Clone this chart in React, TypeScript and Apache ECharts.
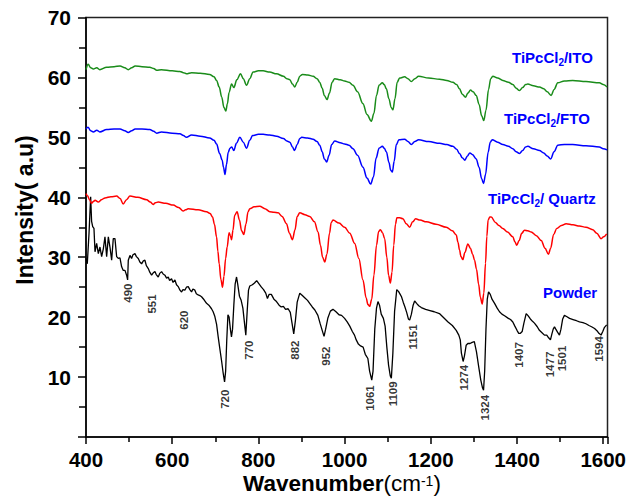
import React, { useEffect, useRef } from "react";
import * as echarts from "echarts";

type P = [number, number];

const powder: P[] = [
  [400,29.8],[403,28.9],[407,34],[410.8,40.1],[413,36],[415.5,35.1],[418.5,34.8],[420.9,30.9],[424.7,32.3],[428.6,30.6],[432.4,31.7],[436.3,30.1],[440.2,31.4],[444,33.4],[447.9,30.1],[451.8,33.4],[455.6,31.7],[459.5,29.5],[463.3,33.1],[467.2,33.1],[471.1,30.1],[474.9,29.8],[478.8,29.9],[482.7,28.4],[486.5,27.8],[490.4,27.8],[494.2,27],[496.6,26.2],[498.1,29.5],[502,30.3],[505.8,29.8],[509,30.4],[513.6,30.6],[517,30.1],[521.3,29.8],[525,29.2],[529,28.9],[533,29.4],[536.7,29.5],[540,28.6],[544.5,28.1],[548,27.5],[552.2,27],[556,27.4],[559.9,27.6],[563,27.1],[567.6,26.7],[571,27.3],[575.4,27.6],[579,27.2],[583.1,27],[587,26.5],[590.8,26.7],[594,26.1],[598.5,26.4],[602,25.8],[606.3,26.2],[610,25.4],[614,25.1],[618,24.5],[621.7,24.2],[625,24.6],[629.4,24.5],[633,25],[637.2,25.1],[641,24.6],[644.9,24.2],[648,24.7],[652.6,24.5],[656,23.9],[660.3,23.7],[664,23.6],[668.1,23.4],[674,22.9],[679.7,22.3],[685,22],[691.2,21.4],[695,20.9],[699,20.1],[703,18.8],[706.7,16.7],[710,15],[714.4,12.8],[718,10.8],[721.5,9.2],[724,11],[726.5,16],[729.3,20.4],[732,20],[735,18],[737.5,16.7],[740,18],[743,22],[746,25.5],[749.3,26.7],[752,25.5],[756,23.5],[760,22.8],[764,21.5],[767,19.5],[770.8,17],[774,21],[777,24.5],[780,25.2],[786,25.4],[791,25.7],[796,26.1],[801,25.6],[807,25],[812,24.6],[817,24],[821,23.1],[825,23.8],[830,23.8],[836,23],[842,22.6],[848,22],[853,21.7],[858,21.8],[863,21.3],[869,21.4],[874,20.8],[878,19],[882,17.2],[886,19.5],[890,22.5],[896,24],[902,23.6],[908,23.2],[914,22.8],[919,22.3],[925,21.7],[931,21.2],[938,20.3],[943,19],[948,17.8],[952.3,16.8],[956,18],[961,19.8],[967,21],[973,21.3],[980,20.9],[987,20.4],[993,20.3],[1000,19.8],[1006,19.2],[1012,18.5],[1018,17.6],[1023,17],[1027,16.2],[1032,15.5],[1037,15.2],[1043,15],[1048,13.8],[1054,13.1],[1058,11],[1063,9.5],[1066,11],[1070,18],[1074,21.5],[1077.4,22.6],[1081,22],[1085,20.5],[1090,19.8],[1094,18.5],[1098,15],[1102,12],[1106,10.2],[1108.5,9.8],[1112,14],[1116,21],[1121,24.6],[1125,24.3],[1129,23.8],[1132,23.4],[1136,22.5],[1140,21.7],[1144,20.8],[1148,19.7],[1151,19.5],[1155,20.5],[1159,22],[1162.5,22.7],[1167,22.3],[1172,21.9],[1178,21.6],[1188,21.3],[1198,21.1],[1208,20.9],[1220,20.6],[1230,19.9],[1240,19.2],[1250,18.6],[1259,17.8],[1265,17],[1268.4,16.2],[1271,14],[1275,12.6],[1278,13.5],[1282,15.3],[1286,15.6],[1291,15.6],[1296,15.8],[1301,15.9],[1306,14.2],[1311,11.8],[1316,9.5],[1320,8.2],[1322.4,7.8],[1325,11],[1328,18],[1331,23],[1334,24.2],[1338,23.8],[1342,23],[1348,22.3],[1354,21.5],[1359.4,20.9],[1365,20.5],[1372,20.2],[1380,19.8],[1385,19.6],[1390.3,19.2],[1395,18.5],[1400,17.8],[1404,17.3],[1408,17.3],[1412,17.6],[1416,19],[1421.3,20.6],[1426,20.2],[1431,19.7],[1436,19.3],[1440.5,19],[1447,18.4],[1452,17.8],[1458,17.4],[1463.7,17],[1469,17],[1473,16.6],[1477.6,16.2],[1481,17.2],[1484,18],[1487,18.4],[1490,18],[1494,17.5],[1498.5,17],[1502,18],[1506,19.7],[1510,20.3],[1515,20.1],[1522,19.8],[1530,19.6],[1538,19.4],[1545,19.2],[1553,19.1],[1560,18.9],[1567,18.6],[1573,18.4],[1580,18.1],[1586,17.7],[1590,17.3],[1595,17],[1599,17.6],[1603,18.3],[1608,18.7]
];

const quartz: P[] = [
  [400,40.6],[404,40.2],[408,39.6],[413,39],[417,39.3],[421,39.5],[428.5,39.2],[436,39.6],[444,39.9],[458,40.1],[471,40.2],[479,39.8],[486.4,38.9],[494,39.6],[502,40.2],[520,40],[540.7,39.6],[549,39.2],[556,38.8],[561,39.1],[567.6,39.2],[585,39],[602.3,38.7],[615,38.3],[625.5,37.7],[631,37.9],[637.1,38.1],[660,37.9],[679.7,37.6],[688,37.3],[693.6,36.7],[698,35.5],[702.9,33.4],[706,31],[709,28.9],[713,26.3],[716.8,25],[720,26.8],[724,29.8],[727.5,31.7],[732,34.1],[735,33.6],[737.7,32.9],[741,34.5],[745,37],[750.6,37.6],[756,36.2],[761,34.4],[766.2,33.8],[771,35.5],[776,37.6],[780.1,38.1],[790,38.4],[803.2,38.5],[815,38.1],[826.4,37.6],[836,37.5],[845.7,37.4],[855,36.8],[865.1,35.6],[872,34],[879,32.9],[885,34.6],[890,36.8],[896,37.4],[908,37.1],[919.1,36.8],[930,35.9],[938.4,34.2],[944,32],[949,30],[953.9,29.2],[959,30.5],[965,34],[969,35.8],[973.1,36.2],[987,35.7],[1000.2,35],[1012,34],[1023.4,32.3],[1033,29.8],[1042.6,26.2],[1050,23.2],[1054.2,22.1],[1058.2,21.8],[1063,23],[1068,27],[1074,32],[1079,34.3],[1082.9,34.6],[1088,34.1],[1092.9,33.1],[1098,30],[1102,27],[1106.2,25.7],[1110,27.5],[1114,32],[1118,35.5],[1121.4,36.6],[1128,36.6],[1135.3,36.4],[1143,35.6],[1150.9,35],[1158,35.9],[1164.8,36.4],[1175,36.2],[1189.6,35.9],[1212,35.5],[1236,35],[1250,34.4],[1259.1,33.7],[1263,32.5],[1266.7,31.2],[1270,30.1],[1274.4,29.6],[1279,30.8],[1286,32.2],[1292,31.5],[1297,30.5],[1301.5,29.5],[1306,28],[1311,25.5],[1315,23.3],[1319.3,22.2],[1323,24],[1327,29],[1330,33.5],[1333,36.2],[1337,36.7],[1340.2,36.7],[1350,35.8],[1358,35.3],[1367.1,34.8],[1378,34.2],[1390.3,33.4],[1395,32.6],[1399.5,32],[1405,32.8],[1411,34],[1417.4,34.5],[1425,34.4],[1432.9,34.2],[1445,33.6],[1456.1,32.8],[1465,31.5],[1473,30.5],[1478,31.5],[1485,33.8],[1492.2,34.8],[1503,35.3],[1514,35.6],[1530,35.4],[1544.8,35.2],[1560,35],[1575.7,34.6],[1585,34],[1595.1,33.1],[1601,33.4],[1608,33.9]
];

const fto: P[] = [
  [400,51.4],[404.6,51.7],[411,51.1],[417,50.9],[425,51.2],[432,50.9],[448,51.3],[465,51.4],[479,51.4],[490,51.1],[498,50.8],[506,51.1],[514,51.4],[530,51.4],[548,51.3],[557,51],[564,50.7],[575,50.9],[600,50.7],[618,50.6],[626,50.3],[633,50],[645,50.4],[665,50.2],[687,49.9],[697,49.5],[703,48.9],[710,47.3],[716,46.2],[719,45],[722.5,43.8],[726,45.5],[730,47.5],[734,48.2],[738,48.4],[743,47.8],[749,49],[757,50],[765,49.2],[772.4,48.2],[780,49.5],[786.3,50.3],[800,50.5],[811,50.5],[826,50.4],[842,50.2],[858,49.8],[866,49.4],[873,49.2],[879,48.4],[883.7,47.8],[890,48.8],[896,49.8],[900.6,50],[914,49.9],[926.8,49.7],[936,49.3],[942.3,48.7],[948,47.6],[953,46.4],[958.5,45.9],[964,47],[970,48.8],[977.1,49.4],[990,49.1],[1000,48.9],[1010.2,48.7],[1019.5,48.1],[1030,47],[1042.6,45],[1052,43.2],[1060.5,42.2],[1067,43.4],[1073,46.5],[1080,48.2],[1087.6,48.5],[1092,48.2],[1096.9,47.6],[1103,45.8],[1107,44.5],[1110.8,44.2],[1115,46],[1120,48.8],[1126.1,49.6],[1139.3,49.7],[1147,49.3],[1154.8,48.8],[1163,49.3],[1171.7,49.6],[1195,49.3],[1220.4,49],[1237,48.8],[1251.2,48.5],[1260,48],[1266.7,47.3],[1273,46.6],[1279,46.2],[1285,46.9],[1290.6,47.4],[1297,47.1],[1305.4,46.4],[1312,45],[1318,43.1],[1322.4,42.3],[1327,43.8],[1333,47.5],[1338,49.2],[1342.5,49.6],[1355,49.2],[1367.1,48.8],[1380,48.5],[1390.3,48.1],[1398,47.6],[1405.8,47.3],[1413,47.8],[1420,48.4],[1425,48.5],[1438,48.1],[1452.2,47.8],[1462,47.4],[1470,46.9],[1478.3,46.4],[1486,47.6],[1494.6,48.7],[1510,48.8],[1529.3,48.8],[1560,48.6],[1591.2,48.4],[1600,48.1],[1609,47.9]
];

const ito: P[] = [
  [400,61.3],[405,62.2],[411,61.6],[417,61.4],[425,61.6],[432,61.3],[448,61.7],[465,61.8],[479,61.9],[490,61.6],[498,61.3],[506,61.6],[514,61.9],[530,61.8],[548,61.7],[557,61.5],[564,61.2],[575,61.3],[600,61.1],[618,61],[626,60.8],[633,60.6],[645,60.8],[665,60.7],[687,60.5],[697,60.1],[703,59.5],[709,58.4],[715,56.7],[720,55],[724.5,54.4],[728,55.6],[732,57.5],[737.7,58.9],[743,58.3],[750,59.6],[758.5,60.6],[765,59.8],[772.4,58.7],[780,59.8],[787.7,60.9],[800,61.1],[811,61.1],[826,60.9],[842,60.6],[858,60.2],[866,59.8],[873,59.6],[879,58.9],[884.4,58.4],[890,59.2],[896,60.2],[902.2,60.5],[915,60.4],[927,60.2],[936,59.8],[942.3,59.2],[948,58.2],[953,57],[959.2,56.3],[965,57.4],[971,59.2],[977.1,59.8],[990,59.6],[1000,59.4],[1010.2,59.2],[1019.5,58.7],[1030,57.6],[1042.6,55.6],[1052,53.8],[1062.1,52.7],[1068,54],[1074,57],[1080,58.7],[1087.6,59.1],[1092,58.8],[1096.9,58.1],[1103,56.4],[1108,55],[1112.2,54.6],[1117,56.5],[1122,59.2],[1127.7,59.9],[1139.3,60.1],[1147,59.8],[1154.8,59.3],[1163,59.8],[1171.7,60.2],[1195,59.9],[1220.4,59.7],[1237,59.5],[1251.2,59.2],[1260,58.8],[1266.7,58.1],[1273,57.2],[1280.7,56.7],[1286,57.4],[1292.2,57.9],[1298,57.6],[1305.4,57],[1312,55.5],[1318,53.6],[1323,52.8],[1328,54.5],[1334,58],[1339,59.8],[1343.9,60.2],[1355,59.9],[1367.1,59.5],[1380,59.2],[1390.3,58.8],[1398,58.2],[1405.8,57.8],[1413,58.3],[1420,58.8],[1425,58.9],[1438,58.6],[1452.2,58.4],[1462,58.1],[1470,57.6],[1479.2,57],[1486,58],[1494.6,59.1],[1510,59.4],[1529.3,59.5],[1560,59.3],[1591.2,59.1],[1600,58.8],[1609,58.4]
];

// peak annotations (label text, wavenumber of label centre, intensity of label centre)
const peakLabels = [490, 551, 620, 720, 770, 882, 952, 1061, 1109, 1151, 1274, 1324, 1407, 1477, 1501, 1594];
const peakLabelX = [497, 552, 627, 722, 778, 884, 956, 1060, 1112, 1158, 1277, 1325, 1404, 1477, 1504, 1590];
const peakLabelY = [24, 22.2, 19.5, 6.3, 14.5, 14.5, 13.5, 6.5, 7.2, 16.7, 9.9, 4.9, 13.7, 12.1, 13.1, 14.7];

const seriesNames = ["Powder", "TiPcCl2/ Quartz", "TiPcCl2/FTO", "TiPcCl2/ITO"];
const seriesColors = ["#000000", "#ff0000", "#0000ff", "#1a8c1a"];

const FONT = "'Liberation Sans', Arial, Helvetica, sans-serif";

export default function App() {
  const ref = useRef<HTMLDivElement>(null);
  useEffect(() => {
    if (!ref.current) return;
    const chart = echarts.init(ref.current, undefined, { renderer: "svg" });
    const labelRich = {
      m: { fontSize: 15, fontWeight: "bold", color: "#0000ff", fontFamily: FONT, lineHeight: 20 },
      s: { fontSize: 10, fontWeight: "bold", color: "#0000ff", fontFamily: FONT, lineHeight: 10, verticalAlign: "bottom" },
    };
    const richName = (n: string) =>
      n.includes("TiPcCl2") ? n.replace("TiPcCl2", "{m|TiPcCl}{s|2}{m|").concat("}") : `{m|${n}}`;
    const nameBoxes = [
      { left: 543, top: 282 },
      { left: 488, top: 188 },
      { left: 504, top: 108 },
      { left: 512, top: 47.5 },
    ];
    const lineData = [powder, quartz, fto, ito];
    chart.setOption({
      animation: false,
      backgroundColor: "#ffffff",
      textStyle: { fontFamily: FONT },
      title: [
        ...seriesNames.map((n, i) => ({
          text: richName(n),
          left: nameBoxes[i].left,
          top: nameBoxes[i].top,
          padding: 0,
          textStyle: { rich: labelRich },
        })),
        {
          text: "{b|Wavenumber}{r|(cm}{u|-1}{r|)}",
          left: 243,
          top: 473.5,
          padding: 0,
          textStyle: {
            rich: {
              b: { fontSize: 22.5, fontWeight: "bold", color: "#000", fontFamily: FONT, lineHeight: 20 },
              r: { fontSize: 22.5, fontWeight: "normal", color: "#000", fontFamily: FONT, lineHeight: 20 },
              u: { fontSize: 14, fontWeight: "normal", color: "#000", fontFamily: FONT, lineHeight: 12, verticalAlign: "top" },
            },
          },
        },
      ],
      graphic: [
        {
          type: "text",
          x: 25,
          y: 210,
          rotation: Math.PI / 2,
          style: {
            text: "Intensity( a.u)",
            font: `bold 23px ${FONT}`,
            fill: "#000",
            textAlign: "center",
            textVerticalAlign: "middle",
          },
        },
      ],
      grid: {
        left: 86,
        top: 17.5,
        right: 21.3,
        bottom: 66,
        show: true,
        borderColor: "#222",
        borderWidth: 1.5,
        backgroundColor: "transparent",
      },
      xAxis: {
        type: "value",
        min: 400,
        max: 1610,
        interval: 200,
        axisLine: { show: true, onZero: false, lineStyle: { color: "#000", width: 1.5 } },
        axisTick: { show: true, length: 7, lineStyle: { color: "#000", width: 1.5 } },
        minorTick: { show: true, splitNumber: 2, length: 5, lineStyle: { color: "#000", width: 1.5 } },
        splitLine: { show: false },
        axisLabel: {
          fontSize: 20.5,
          fontWeight: "bold",
          color: "#000",
          fontFamily: FONT,
          margin: 12,
          lineHeight: 20,
          formatter: (v: number) => (v % 200 === 0 ? String(v) : ""),
        },
      },
      yAxis: {
        type: "value",
        min: 0,
        max: 70,
        interval: 10,
        axisLine: { show: true, onZero: false, lineStyle: { color: "#000", width: 1.5 } },
        axisTick: { show: true, length: 8, lineStyle: { color: "#000", width: 1.5 } },
        minorTick: { show: true, splitNumber: 2, length: 7, lineStyle: { color: "#000", width: 1.5 } },
        splitLine: { show: false },
        axisLabel: {
          fontSize: 21,
          fontWeight: "bold",
          color: "#000",
          fontFamily: FONT,
          margin: 15,
          formatter: (v: number) => (v === 0 ? "" : String(v)),
        },
      },
      series: [
        ...lineData.map((d, i) => ({
          type: "line",
          name: seriesNames[i],
          data: d,
          showSymbol: false,
          symbol: "none",
          smooth: i === 0 ? false : 0.35,
          smoothMonotone: "x",
          lineStyle: { color: seriesColors[i], width: i === 0 ? 1.3 : 1.5 },
          silent: true,
          z: 2,
        })),
        {
          type: "scatter",
          silent: true,
          symbolSize: 0.1,
          itemStyle: { color: "transparent" },
          data: peakLabels.map((p, i) => ({ name: String(p), value: [peakLabelX[i], peakLabelY[i]] })),
          label: {
            show: true,
            position: "inside",
            rotate: 90,
            formatter: "{b}",
            fontSize: 11.5,
            fontWeight: "bold",
            color: "#000",
            fontFamily: FONT,
          },
          z: 3,
        },
      ],
    });
    return () => chart.dispose();
  }, []);
  return (
    <div
      ref={ref}
      style={{ position: "fixed", left: 0, top: 0, width: 629, height: 503, background: "#fff" }}
    />
  );
}
